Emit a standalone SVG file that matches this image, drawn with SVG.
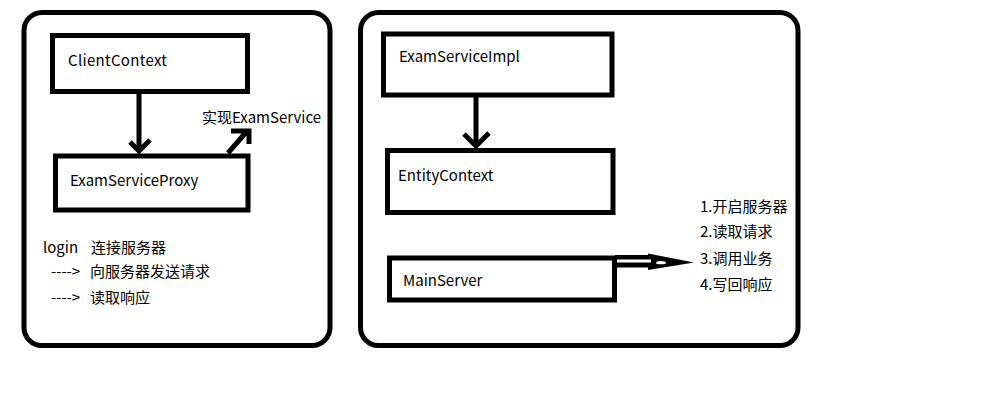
<svg xmlns="http://www.w3.org/2000/svg" width="996" height="417" viewBox="0 0 996 417">
  <style>
    .panel { fill: #fff; stroke: #000; stroke-width: 5; }
    .box { fill: #fff; stroke: #000; stroke-width: 5; }
    .conn { fill: none; stroke: #000; stroke-width: 5; }
    text { font-family: "Noto Sans CJK SC", "Noto Sans", sans-serif; font-size: 15px; fill: #000; }
  </style>
  <rect width="996" height="417" fill="#fff"/>

  <!-- client side -->
  <rect id="client-panel" class="panel" x="24" y="12.5" width="306" height="333" rx="18"/>
  <!-- server side -->
  <rect id="server-panel" class="panel" x="360.5" y="12.5" width="437.5" height="333" rx="18"/>

  <g id="clientcontext">
    <rect class="box" x="52.5" y="35.5" width="195" height="56"/>
    <text x="68" y="66" textLength="99">ClientContext</text>
  </g>
  <g id="examserviceproxy">
    <rect class="box" x="55.5" y="156" width="192.5" height="54"/>
    <text x="70" y="186">ExamServiceProxy</text>
  </g>
  <g id="examserviceimpl">
    <rect class="box" x="383.5" y="34" width="228.5" height="61"/>
    <text x="399" y="62">ExamServiceImpl</text>
  </g>
  <g id="entitycontext">
    <rect class="box" x="387.5" y="150.5" width="225.5" height="62"/>
    <text x="398" y="181">EntityContext</text>
  </g>
  <g id="mainserver">
    <rect class="box" x="389.5" y="258" width="225" height="42"/>
    <text x="403" y="286">MainServer</text>
  </g>

  <g id="connectors">
    <!-- ClientContext -> ExamServiceProxy -->
    <path class="conn" d="M139,93 V152 M130,142 L139,151 L150,140"/>
    <!-- ExamServiceProxy implements ExamService -->
    <path class="conn" d="M228,153 L248,130 M231,131 H249 V144"/>
    <!-- ExamServiceImpl -> EntityContext -->
    <path class="conn" d="M476,97 V146 M464,134 L476,146 L489,133"/>
    <!-- MainServer hollow double-line arrow -->
    <rect x="615" y="255" width="37" height="12.5" fill="#000"/>
    <polygon points="648,253.5 694,262.5 648,270" fill="#000"/>
    <rect x="617" y="259.5" width="34" height="3" fill="#fff"/>
    <ellipse cx="661" cy="262.7" rx="5" ry="1.6" fill="#fff"/>
  </g>

  <g id="labels">
    <text x="202" y="123">实现ExamService</text>
    <text x="43" y="253">login</text>
    <text x="91" y="253">连接服务器</text>
    <text x="51" y="277">----&gt;</text>
    <text x="90" y="277">向服务器发送请求</text>
    <text x="51" y="303">----&gt;</text>
    <text x="90" y="303">读取响应</text>
    <text x="700" y="212">1.开启服务器</text>
    <text x="700" y="237">2.读取请求</text>
    <text x="700" y="264">3.调用业务</text>
    <text x="700" y="290">4.写回响应</text>
  </g>
</svg>
